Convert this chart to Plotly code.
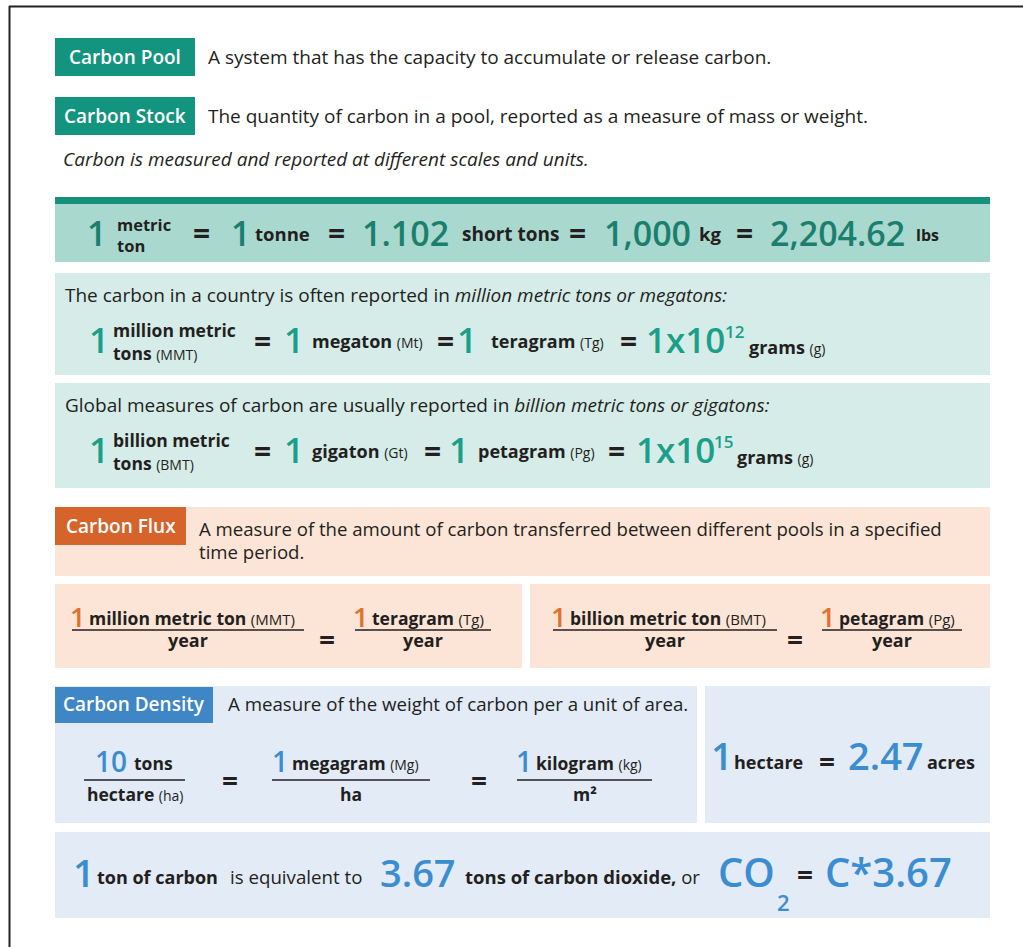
import plotly.graph_objects as go

# ---------------- data ----------------
term_labels = ["Carbon Pool", "Carbon Stock", "Carbon Flux", "Carbon Density"]
term_definitions = [
    "A system that has the capacity to accumulate or release carbon.",
    "The quantity of carbon in a pool, reported as a measure of mass or weight.",
    "A measure of the amount of carbon transferred between different pools in a specified<br>time period.",
    "A measure of the weight of carbon per a unit of area.",
]
scale_note = "Carbon is measured and reported at different scales and units."

mass_values = ["1", "1", "1.102", "1,000", "2,204.62"]
mass_units = ["metric|ton", "tonne", "short tons", "kg", "lbs"]

country_intro = ("The carbon in a country is often reported in ", "million metric tons or megatons:")
country_values = ["1", "1", "1", "1x10"]
country_units = [("million metric", "tons", "(MMT)"), ("megaton", "(Mt)"), ("teragram", "(Tg)"), ("grams", "(g)")]
country_exponent = "12"

global_intro = ("Global measures of carbon are usually reported in ", "billion metric tons or gigatons:")
global_values = ["1", "1", "1", "1x10"]
global_units = [("billion metric", "tons", "(BMT)"), ("gigaton", "(Gt)"), ("petagram", "(Pg)"), ("grams", "(g)")]
global_exponent = "15"

flux_values = ["1", "1", "1", "1"]
flux_units = [("million metric ton", "(MMT)"), ("teragram", "(Tg)"),
              ("billion metric ton", "(BMT)"), ("petagram", "(Pg)")]
flux_denominator = "year"

density_values = ["10", "1", "1"]
density_numer = [("tons", ""), ("megagram", "(Mg)"), ("kilogram", "(kg)")]
density_denom = [("hectare", "(ha)"), ("ha", ""), ("m²", "")]

area_values = ["1", "2.47"]
area_units = ["hectare", "acres"]

co2_values = ["1", "3.67"]
co2_texts = ["ton of carbon", "is equivalent to", "tons of carbon dioxide,", "or"]
co2_formula = ("CO", "2", "C*3.67")

# ---------------- styles ----------------
FONT = "Open Sans, Noto Sans, DejaVu Sans, sans-serif"
TXT = "#231f20"
TEAL = "#13947e"
TEAL_STRIPE = "#16907b"
TEAL_BAND = "#a9d8cf"
TEAL_PANEL = "#d6ece8"
TEAL_NUM1 = "#1a806d"
TEAL_NUM = "#1b9f89"
ORANGE = "#d6632a"
ORANGE_BG = "#fce4d6"
ORANGE_NUM = "#e2702c"
BLUE = "#3e86c6"
BLUE_BG = "#e2ebf6"
BLUE_NUM = "#3a8dd0"
NUMW = 600

shapes = []
anns = []


def rect(x0, y0, x1, y1, color):
    shapes.append(dict(type="rect", xref="x", yref="y", x0=x0, y0=y0, x1=x1, y1=y1,
                       fillcolor=color, line=dict(width=0), layer="below"))


def hline(x0, x1, y, color=TXT, width=1.3):
    shapes.append(dict(type="line", xref="x", yref="y", x0=x0, x1=x1, y0=y, y1=y,
                       line=dict(color=color, width=width)))


def txt(x, base, text, size, color=TXT, anchor="left", weight="normal", center=False):
    # base: baseline y (pixels from top); center=True -> y is the vertical center
    y = base if center else base - 0.39 * size
    anns.append(dict(x=x, y=y, xref="x", yref="y", text=text, showarrow=False,
                     xanchor=anchor, yanchor="middle", borderpad=0, align="left",
                     font=dict(family=FONT, size=size, color=color, weight=weight)))


def unit(main, paren, psize=14):
    s = "<b>%s</b>" % main
    if paren:
        s += " <span style='font-size:%dpx'>%s</span>" % (psize, paren)
    return s


def eq(x, yc, size=30):
    txt(x, yc - 0.03 * size, "=", size, TXT, "center", "bold", center=True)


# ---------------- frame ----------------
shapes.append(dict(type="line", xref="x", yref="y", x0=9, x1=1023, y0=6.5, y1=6.5,
                   line=dict(color="#222", width=2)))
shapes.append(dict(type="line", xref="x", yref="y", x0=9.5, x1=9.5, y0=6, y1=947,
                   line=dict(color="#222", width=2)))

# ---------------- definitions ----------------
label_boxes = [(55, 38, 195, 76, TEAL), (55, 97, 195, 135, TEAL)]
for (x0, y0, x1, y1, c), lab, d, base in zip(label_boxes, term_labels[:2], term_definitions[:2], [64, 123]):
    rect(x0, y0, x1, y1, c)
    txt((x0 + x1) / 2, base, lab, 19, "white", "center", 600)
    txt(207, base, d, 19, TXT)
txt(62, 166, "<i>%s</i>" % scale_note, 19, TXT)

# ---------------- mass band ----------------
rect(55, 197, 990, 204, TEAL_STRIPE)
rect(55, 204, 990, 262, TEAL_BAND)
for x, v in zip([96.5, 240, 405, 647, 837.5], mass_values):
    txt(x, 246, v, 34, TEAL_NUM1, "center", NUMW)
top, bot = mass_units[0].split("|")
# two stacked lines in one text
txt(116, 235, "<b>%s</b><br><b>%s</b>" % (top, bot), 16.5, center=True)
for x, u, s in zip([282, 510.5, 709.5, 927.5], mass_units[1:], [18.5, 19, 18.5, 16]):
    txt(x, 241, "<b>%s</b>" % u, s, TXT, "center")
for x in [201.5, 336, 577, 744]:
    eq(x, 233)

# ---------------- country / global panels ----------------
rect(55, 273, 990, 375, TEAL_PANEL)
rect(55, 383, 990, 488, TEAL_PANEL)
for off, intro, vals, units, expo, eqx, numx, unitx, expx in [
    (0, country_intro, country_values, country_units, country_exponent,
     [262, 445, 628], [98.5, 293.5, 466.5, 685], [311, 490, 748], 724),
    (110, global_intro, global_values, global_units, global_exponent,
     [262, 432.5, 616], [98.5, 293.5, 459, 675], [311, 477, 736], 713),
]:
    txt(64, 302 + off, intro[0] + "<i>%s</i>" % intro[1], 19, TXT)
    for x, v in zip(numx, vals):
        txt(x, 353 + off, v, 35, TEAL_NUM, "center", NUMW)
    txt(112, 341 + off, "<b>%s</b><br>%s" % (units[0][0], unit(units[0][1], units[0][2], 14.5)),
        17.5, center=True)
    for x, u in zip(unitx[:2], units[1:3]):
        txt(x, 348 + off, unit(u[0], u[1], 14.5), 18)
    txt(unitx[2], 354 + off, unit(units[3][0], units[3][1], 14.5), 18)
    txt(expx, 338 + off, expo, 17, TEAL_NUM, weight=NUMW)
    for x in eqx:
        eq(x, 341 + off)

# ---------------- flux ----------------
rect(55, 507, 990, 576, ORANGE_BG)
rect(55, 507, 186, 545, ORANGE)
txt(120.5, 533, term_labels[2], 19, "white", "center", 600)
desc1, desc2 = term_definitions[2].split("<br>")
txt(198, 536, desc1, 18.6, TXT)
txt(198, 559, desc2, 18.6, TXT)
rect(55, 584, 522, 668, ORANGE_BG)
rect(530, 584, 990, 668, ORANGE_BG)
flux_frac = [(72, 304), (355, 491), (553, 777), (822, 962)]
for (x0, x1), v, u in zip(flux_frac, flux_values, flux_units):
    txt(x0 + 5, 627, v, 27, ORANGE_NUM, "center", NUMW)
    txt(x0 + 16, 625, unit(u[0], u[1], 15), 17.5)
    hline(x0, x1, 630)
    txt((x0 + x1) / 2, 647, "<b>%s</b>" % flux_denominator, 18, TXT, "center")
for x in [327, 795]:
    eq(x, 640, 28)

# ---------------- density ----------------
rect(55, 686, 697, 823, BLUE_BG)
rect(705, 686, 990, 823, BLUE_BG)
rect(55, 687, 213, 723, BLUE)
txt(134, 711, term_labels[3], 19, "white", "center", 600)
txt(227, 711, term_definitions[3], 18.7, TXT)
dens_frac = [(84, 185, 111, 133), (272, 430, 279.5, 291), (517, 652, 524, 535)]
for (x0, x1, nx, ux), v, nu, du in zip(dens_frac, density_values, density_numer, density_denom):
    txt(nx, 772, v, 28, BLUE_NUM, "center", NUMW)
    txt(ux, 770, unit(nu[0], nu[1], 14.5), 17.5)
    hline(x0, x1, 780)
    txt((x0 + x1) / 2, 801, unit(du[0], du[1], 14.5), 17.5, TXT, "center")
for x in [229.5, 478.5]:
    eq(x, 781, 28)

# hectare
txt(721.5, 770, area_values[0], 38, BLUE_NUM, "center", NUMW)
txt(733, 769, "<b>%s</b>" % area_units[0], 18)
eq(826.5, 762, 28)
txt(885.5, 770, area_values[1], 38, BLUE_NUM, "center", NUMW)
txt(926, 769, "<b>%s</b>" % area_units[1], 18)

# ---------------- CO2 ----------------
rect(55, 832, 990, 918, BLUE_BG)
txt(84, 887, co2_values[0], 38, BLUE_NUM, "center", NUMW)
txt(96, 884, "<b>%s</b>" % co2_texts[0], 18)
txt(229, 884, co2_texts[1], 18.7)
txt(417.5, 887, co2_values[1], 38, BLUE_NUM, "center", NUMW)
txt(464, 884, "<b>%s</b> %s" % (co2_texts[2], co2_texts[3]), 18.5)
txt(746, 887, co2_formula[0], 40, BLUE_NUM, "center", NUMW)
txt(776, 911, co2_formula[1], 22, BLUE_NUM, "left", NUMW)
eq(805, 875, 28)
txt(888, 887, co2_formula[2], 40, BLUE_NUM, "center", NUMW)

# ---------------- figure ----------------
fig = go.Figure()
fig.update_layout(
    width=1023, height=947,
    margin=dict(l=0, r=0, t=0, b=0),
    paper_bgcolor="white", plot_bgcolor="white",
    xaxis=dict(range=[0, 1023], visible=False, fixedrange=True),
    yaxis=dict(range=[947, 0], visible=False, fixedrange=True),
    shapes=shapes, annotations=anns, showlegend=False,
)
fig.write_html("out.html", config={"displayModeBar": False},
               post_script="document.body.style.margin='0';document.body.style.overflow='hidden';")
